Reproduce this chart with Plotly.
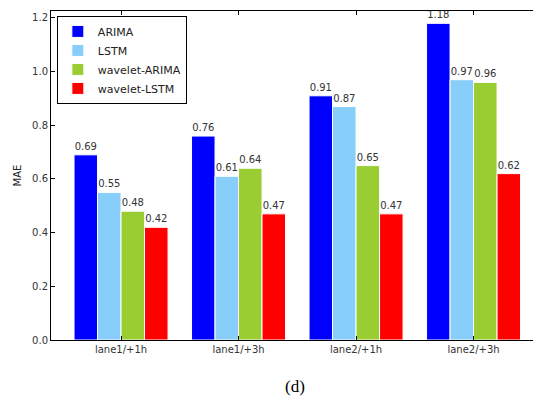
import plotly.graph_objects as go

categories = ["lane1/+1h", "lane1/+3h", "lane2/+1h", "lane2/+3h"]
series_names = ["ARIMA", "LSTM", "wavelet-ARIMA", "wavelet-LSTM"]
arima = [0.69, 0.76, 0.91, 1.18]
lstm = [0.55, 0.61, 0.87, 0.97]
wavelet_arima = [0.48, 0.64, 0.65, 0.96]
wavelet_lstm = [0.42, 0.47, 0.47, 0.62]
colors = ["#0000FF", "#87CEFA", "#9ACD32", "#FF0000"]
y_ticks = [0.0, 0.2, 0.4, 0.6, 0.8, 1.0, 1.2]

fig = go.Figure()
for name, vals, col in zip(series_names, [arima, lstm, wavelet_arima, wavelet_lstm], colors):
    fig.add_trace(go.Bar(
        name=name, x=list(range(len(categories))), y=vals,
        marker=dict(color=col, line=dict(color="white", width=1)),
        text=[f"{v:.2f}" for v in vals], textposition="outside",
        textfont=dict(size=10, color="#333333", family="DejaVu Sans"),
        cliponaxis=False,
    ))

# page body has an 8px default margin, so the figure is sized to fill the rest
fig.update_layout(
    width=533, height=389,
    margin=dict(l=43, r=2, t=3, b=57),
    paper_bgcolor="white", plot_bgcolor="white",
    barmode="group", bargap=0.2, bargroupgap=0,
    font=dict(family="DejaVu Sans", size=10, color="#333333"),
    showlegend=True,
    legend=dict(x=0.012, y=0.985, xanchor="left", yanchor="top",
                bordercolor="black", borderwidth=1, bgcolor="white",
                font=dict(size=11, color="#222222"), tracegroupgap=0,
                itemwidth=30),
    xaxis=dict(range=[-0.596, 3.557], tickmode="array",
               tickvals=list(range(len(categories))), ticktext=categories,
               ticks="inside", ticklen=4, tickcolor="black",
               showline=True, linecolor="black", linewidth=1, mirror="ticks",
               showgrid=False, zeroline=False,
               tickfont=dict(size=10, color="#333333")),
    yaxis=dict(range=[0, 1.226], tickmode="array", tickvals=y_ticks,
               ticktext=[f"{v:.1f}" for v in y_ticks],
               ticks="inside", ticklen=4, tickcolor="black",
               showline=True, linecolor="black", linewidth=1, mirror="ticks",
               showgrid=False, zeroline=False,
               title=dict(text="MAE", font=dict(size=10, color="#222222"), standoff=8),
               tickfont=dict(size=10, color="#333333")),
    annotations=[dict(text="(d)", x=0.5, y=-0.105, xref="paper", yref="paper",
                      xanchor="center", yanchor="top", showarrow=False,
                      font=dict(family="Liberation Serif", size=17, color="black"))],
)

fig.write_html("out.html")
